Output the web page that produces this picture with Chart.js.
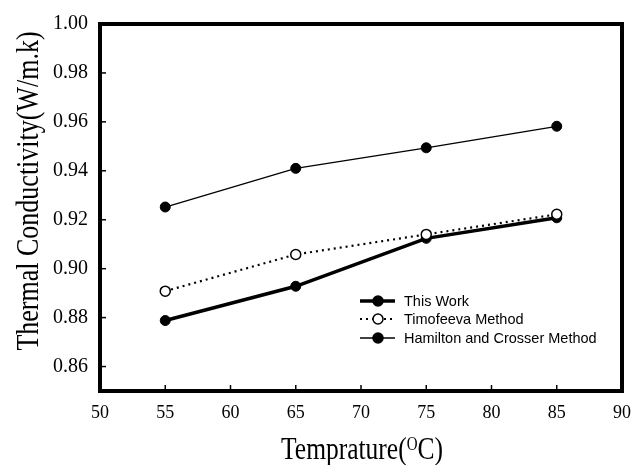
<!DOCTYPE html>
<html><head><meta charset="utf-8">
<script src="https://cdn.jsdelivr.net/npm/chart.js@4"></script>
<style>html,body{margin:0;padding:0;background:#fff}canvas{display:block}</style>
</head><body>
<canvas id="c" width="644" height="465"></canvas>
<script>
const temperatures = [55, 65, 75, 85];
const thisWork = [0.8788, 0.8928, 0.9124, 0.9208];
const timofeeva = [0.8908, 0.9058, 0.9140, 0.9222];
const hamilton = [0.9252, 0.9410, 0.9494, 0.9582];
const seriesNames = ['This Work', 'Timofeeva Method', 'Hamilton and Crosser Method'];
const xTicks = [50, 55, 60, 65, 70, 75, 80, 85, 90];
const yTicks = [0.86, 0.88, 0.90, 0.92, 0.94, 0.96, 0.98, 1.00];
const xTitle = ['Temprature(', 'O', 'C)'];
const yTitle = 'Thermal Conductivity(W/m.k)';

const pts = arr => temperatures.map((t, i) => ({x: t, y: arr[i]}));

const framePlugin = {
  id: 'frame',
  afterDraw(chart) {
    const {ctx, chartArea: a, scales} = chart;
    ctx.save();
    // inward ticks
    ctx.strokeStyle = '#000';
    ctx.lineWidth = 1.5;
    yTicks.forEach(v => {
      const y = scales.y.getPixelForValue(v);
      ctx.beginPath(); ctx.moveTo(a.left, y); ctx.lineTo(a.left + 6, y); ctx.stroke();
    });
    xTicks.forEach(v => {
      const x = scales.x.getPixelForValue(v);
      ctx.beginPath(); ctx.moveTo(x, a.bottom); ctx.lineTo(x, a.bottom - 6); ctx.stroke();
    });
    // frame
    ctx.lineWidth = 4;
    ctx.strokeRect(a.left, a.top, a.right - a.left, a.bottom - a.top);

    // legend
    const lx0 = 360, lx1 = 395, mx = 378, tx = 404;
    const rows = [301, 319, 338];
    const styles = [
      {w: 3.5, dash: [], fill: '#000'},
      {w: 2.2, dash: [2, 4], fill: '#fff'},
      {w: 1.3, dash: [], fill: '#000'}
    ];
    ctx.font = '14.5px "Liberation Sans", Arial, sans-serif';
    ctx.textBaseline = 'middle';
    ctx.textAlign = 'left';
    rows.forEach((y, i) => {
      const s = styles[i];
      ctx.setLineDash(s.dash);
      ctx.lineWidth = s.w;
      ctx.beginPath(); ctx.moveTo(lx0, y); ctx.lineTo(lx1, y); ctx.stroke();
      ctx.setLineDash([]);
      ctx.beginPath(); ctx.arc(mx, y, 5, 0, Math.PI * 2);
      ctx.fillStyle = s.fill; ctx.fill();
      ctx.lineWidth = 1.5; ctx.stroke();
      ctx.fillStyle = '#000';
      ctx.fillText(seriesNames[i], tx, y + 1);
    });

    // x title with superscript
    ctx.save();
    ctx.translate(0, 459);
    ctx.scale(1, 1.22);
    const mainF = '25.5px "Liberation Serif", "Times New Roman", serif';
    const supF = '15px "Liberation Serif", "Times New Roman", serif';
    ctx.textBaseline = 'alphabetic';
    ctx.font = mainF;
    const w0 = ctx.measureText(xTitle[0]).width;
    const w2 = ctx.measureText(xTitle[2]).width;
    ctx.font = supF;
    const w1 = ctx.measureText(xTitle[1]).width;
    let x = 362 - (w0 + w1 + w2) / 2;
    ctx.font = mainF; ctx.fillText(xTitle[0], x, 0); x += w0;
    ctx.font = supF; ctx.fillText(xTitle[1], x, -7.2); x += w1;
    ctx.font = mainF; ctx.fillText(xTitle[2], x, 0);
    ctx.restore();

    // y title
    ctx.save();
    ctx.translate(38, 191);
    ctx.rotate(-Math.PI / 2);
    ctx.scale(1, 1.22);
    ctx.font = '26px "Liberation Serif", "Times New Roman", serif';
    ctx.textAlign = 'center';
    ctx.textBaseline = 'alphabetic';
    ctx.fillText(yTitle, 0, 0);
    ctx.restore();

    ctx.restore();
  }
};

new Chart(document.getElementById('c'), {
  type: 'line',
  data: {
    datasets: [
      {label: seriesNames[0], data: pts(thisWork), borderColor: '#000', borderWidth: 3.5,
       pointRadius: 5, pointBackgroundColor: '#000', pointBorderColor: '#000', pointBorderWidth: 1, order: 1},
      {label: seriesNames[1], data: pts(timofeeva), borderColor: '#000', borderWidth: 2.2, borderDash: [2, 4],
       pointRadius: 5, pointBackgroundColor: '#fff', pointBorderColor: '#000', pointBorderWidth: 1.5, order: 0},
      {label: seriesNames[2], data: pts(hamilton), borderColor: '#000', borderWidth: 1.3,
       pointRadius: 5, pointBackgroundColor: '#000', pointBorderColor: '#000', pointBorderWidth: 1, order: 2}
    ]
  },
  options: {
    responsive: false,
    animation: false,
    events: [],
    layout: {padding: {left: 0, right: 22, top: 17, bottom: 0}},
    plugins: {legend: {display: false}, tooltip: {enabled: false}},
    scales: {
      x: {
        type: 'linear', min: 50, max: 90,
        afterBuildTicks: s => { s.ticks = xTicks.map(v => ({value: v})); },
        afterFit: s => { s.height = 74; },
        grid: {display: false, drawTicks: false},
        border: {display: false},
        ticks: {color: '#000', padding: 11, maxRotation: 0, autoSkip: false,
                font: {family: '"Liberation Serif", "Times New Roman", serif', size: 18},
                callback: v => String(v)}
      },
      y: {
        type: 'linear', min: 0.85, max: 1.0,
        afterBuildTicks: s => { s.ticks = yTicks.map(v => ({value: v})); },
        afterFit: s => { s.width = 100; },
        grid: {display: false, drawTicks: false},
        border: {display: false},
        ticks: {color: '#000', padding: 12, autoSkip: false,
                font: {family: '"Liberation Serif", "Times New Roman", serif', size: 20},
                callback: v => Number(v).toFixed(2)}
      }
    }
  },
  plugins: [framePlugin]
});
</script>
</body></html>
